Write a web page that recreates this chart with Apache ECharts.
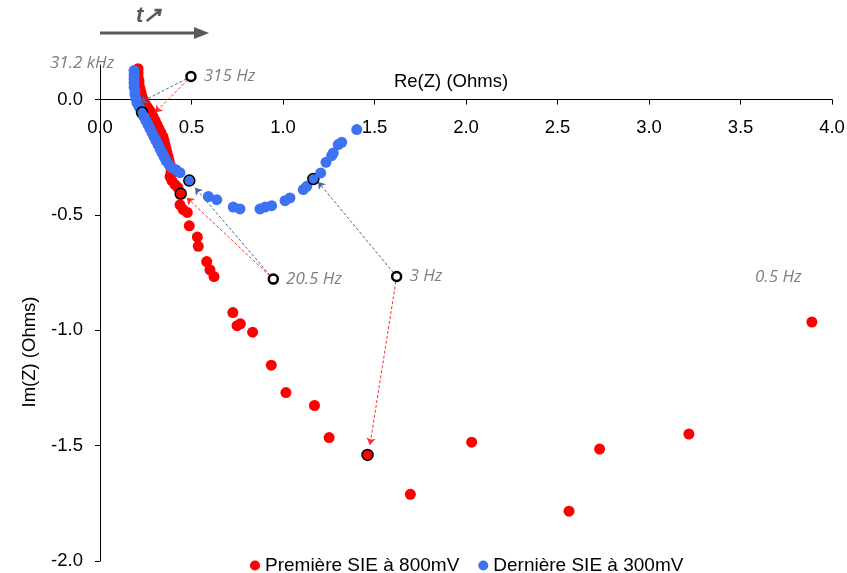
<!DOCTYPE html>
<html><head><meta charset="utf-8">
<script src="https://cdn.jsdelivr.net/npm/echarts@6/dist/echarts.min.js"></script>
<style>html,body{margin:0;padding:0;background:#fff}#c{width:847px;height:573px}</style>
</head><body><div id="c"></div>
<script>
// Première SIE à 800mV
const redRe = [0.208,0.208,0.208,0.213,0.213,0.219,0.224,0.230,0.235,0.246,0.257,0.268,0.279,0.290,0.301,0.311,0.322,0.333,0.344,0.350,0.355,0.361,0.366,0.372,0.377,0.383,0.388,0.388,0.383,0.393,0.410,0.426,
  0.441,0.437,0.455,0.477,0.488,0.532,0.537,0.583,0.601,0.623,0.726,0.749,0.767,0.834,0.936,1.016,1.172,1.252,1.462,1.696,2.031,2.563,2.730,3.218,3.890];
const redIm = [0.134,0.117,0.100,0.082,0.065,0.048,0.030,0.013,0.000,-0.017,-0.030,-0.043,-0.056,-0.074,-0.091,-0.108,-0.126,-0.143,-0.161,-0.178,-0.195,-0.213,-0.230,-0.247,-0.265,-0.282,-0.299,-0.317,-0.334,-0.351,-0.369,-0.382,
  -0.408,-0.456,-0.477,-0.489,-0.547,-0.596,-0.636,-0.702,-0.738,-0.767,-0.923,-0.980,-0.972,-1.008,-1.151,-1.270,-1.326,-1.465,-1.540,-1.711,-1.485,-1.784,-1.515,-1.450,-0.964];
const redMarked = [32, 50];
// Dernière SIE à 300mV
const blueRe = [0.186,0.186,0.186,0.186,0.186,0.191,0.191,0.197,0.202,0.213,0.224,0.230,0.240,0.251,0.262,0.273,0.284,0.295,0.306,0.317,0.328,0.339,0.350,0.361,0.377,0.393,0.415,0.437,
  0.488,0.592,0.638,0.728,0.765,0.874,0.902,0.938,1.011,1.038,1.111,1.130,1.166,1.206,1.235,1.266,1.275,1.302,1.321,1.403];
const blueIm = [0.126,0.108,0.091,0.074,0.056,0.039,0.022,0.004,-0.013,-0.030,-0.048,-0.056,-0.074,-0.091,-0.108,-0.126,-0.143,-0.161,-0.178,-0.195,-0.213,-0.230,-0.247,-0.265,-0.282,-0.295,-0.304,-0.317,
  -0.351,-0.420,-0.434,-0.466,-0.474,-0.474,-0.466,-0.460,-0.438,-0.426,-0.390,-0.376,-0.344,-0.318,-0.272,-0.243,-0.231,-0.195,-0.185,-0.130];
const blueMarked = [11, 28, 40];
// frequency annotations
const annotLabels = ['315 Hz', '20.5 Hz', '3 Hz'];
const annotRe = [0.497, 0.947, 1.621];
const annotIm = [0.100, -0.778, -0.767];
const blueArrowRe = [0.219, 0.519, 1.191];
const blueArrowIm = [-0.013, -0.382, -0.356];
const redArrowRe = [0.301, 0.474, 1.475];
const redArrowIm = [-0.056, -0.425, -1.497];
const xTicks = [0, 0.5, 1, 1.5, 2, 2.5, 3, 3.5, 4];
const yTicks = [-2, -1.5, -1, -0.5, 0];
const seriesNames = ['Première SIE à 800mV', 'Dernière SIE à 300mV'];

function build(re, im, marked) {
  return re.map((x, i) => {
    const d = { value: [x, im[i]] };
    if (marked.includes(i)) d.itemStyle = { borderColor: '#000', borderWidth: 1.5 };
    return d;
  });
}
const gray = '#7f7f7f';
const annFont = { color: gray, fontStyle: 'italic', fontFamily: 'Open Sans', fontSize: 17 };

const chart = echarts.init(document.getElementById('c'));
chart.setOption({
  animation: false,
  grid: { left: 100, right: 15, top: 65, bottom: 12, containLabel: false, outerBoundsMode: 'none' },
  xAxis: {
    type: 'value', min: 0, max: 4, interval: 0.5, position: 'bottom', offset: 0,
    axisLine: { onZero: false, lineStyle: { color: '#000', width: 1 } },
    axisTick: { show: true, length: 5, lineStyle: { color: '#000' }, customValues: xTicks },
    axisLabel: { margin: 19, fontSize: 18.5, fontFamily: 'Liberation Sans', color: '#000', customValues: xTicks, formatter: v => v.toFixed(1) },
    splitLine: { show: false }
  },
  yAxis: {
    type: 'value', min: -2, max: 0.15, interval: 0.5,
    axisLine: { show: true, onZero: false, lineStyle: { color: '#000', width: 1 } },
    axisTick: { show: true, length: 5, lineStyle: { color: '#000' }, customValues: yTicks },
    axisLabel: { margin: 17, fontSize: 18.5, fontFamily: 'Liberation Sans', color: '#000', customValues: yTicks, formatter: v => v.toFixed(1) },
    splitLine: { show: false }
  },
  legend: {
    data: seriesNames, left: 245, top: 551, icon: 'circle', itemWidth: 10, itemHeight: 10, itemGap: 19,
    textStyle: { fontSize: 19, fontFamily: 'Liberation Sans', color: '#000' }
  },
  series: [
    { name: seriesNames[0], type: 'scatter', symbolSize: 11, itemStyle: { color: '#ff0000', opacity: 1 }, data: build(redRe, redIm, redMarked), z: 2 },
    { name: seriesNames[1], type: 'scatter', symbolSize: 11, itemStyle: { color: '#3d72f2', opacity: 1 }, data: build(blueRe, blueIm, blueMarked), z: 3 },
    { type: 'lines', coordinateSystem: 'cartesian2d', symbol: ['none', 'arrow'], symbolSize: 7, z: 5,
      lineStyle: { color: '#48679a', width: 1, type: [3, 2], opacity: 1 },
      data: annotRe.map((x, i) => ({ coords: [[x, annotIm[i]], [blueArrowRe[i], blueArrowIm[i]]] })) },
    { type: 'lines', coordinateSystem: 'cartesian2d', symbol: ['none', 'arrow'], symbolSize: 7, z: 5,
      lineStyle: { color: '#ff2a2a', width: 1, type: [3, 2], opacity: 1 },
      data: annotRe.map((x, i) => ({ coords: [[x, annotIm[i]], [redArrowRe[i], redArrowIm[i]]] })) },
    { type: 'scatter', symbolSize: 9, z: 6,
      itemStyle: { color: '#fff', borderColor: '#000', borderWidth: 2.5, opacity: 1 },
      label: Object.assign({ show: true, position: 'right', distance: 7, formatter: p => annotLabels[p.dataIndex] }, annFont),
      data: annotRe.map((x, i) => [x, annotIm[i]]) }
  ],
  graphic: [
    { type: 'text', x: 50, y: 63, style: { text: '31.2 kHz', align: 'left', verticalAlign: 'middle', fill: gray, font: 'italic 17px "Open Sans"' } },
    { type: 'text', x: 755, y: 277, style: { text: '0.5 Hz', align: 'left', verticalAlign: 'middle', fill: gray, font: 'italic 17px "Open Sans"' } },
    { type: 'text', x: 451, y: 82, style: { text: 'Re(Z) (Ohms)', align: 'center', verticalAlign: 'middle', fill: '#000', font: '18.5px "Liberation Sans"' } },
    { type: 'text', x: 30, y: 352, rotation: Math.PI / 2, style: { text: 'Im(Z) (Ohms)', align: 'center', verticalAlign: 'middle', fill: '#000', font: '18.5px "Liberation Sans"' } },
    { type: 'line', shape: { x1: 100, y1: 33, x2: 196, y2: 33 }, style: { stroke: '#595959', lineWidth: 3 } },
    { type: 'polygon', shape: { points: [[194, 27], [209, 33], [194, 39]] }, style: { fill: '#595959' } },
    { type: 'text', x: 136, y: 16, style: { text: 't↗', align: 'left', verticalAlign: 'middle', fill: '#595959', font: 'italic bold 22px "Liberation Sans"' } }
  ]
});
// move the x axis up so it crosses the y axis at Im = 0 (like the reference)
const yZero = chart.convertToPixel({ yAxisIndex: 0 }, 0);
const yBottom = chart.convertToPixel({ yAxisIndex: 0 }, -2);
chart.setOption({ xAxis: { offset: -(yBottom - yZero) } });
</script>
</body></html>
